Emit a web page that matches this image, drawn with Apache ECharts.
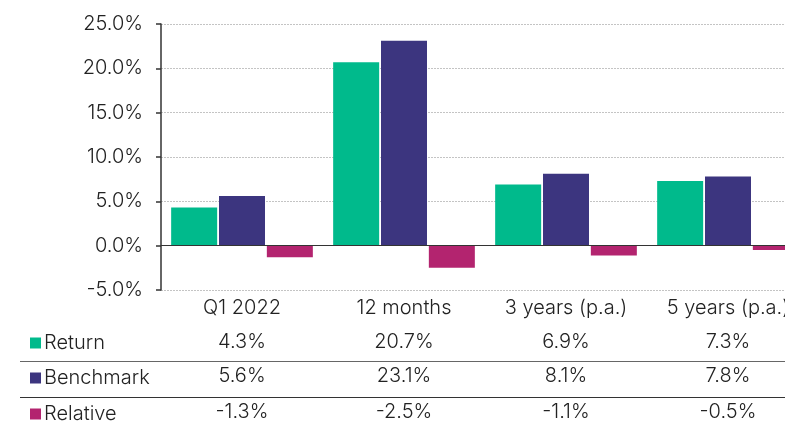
<!DOCTYPE html>
<html>
<head>
<meta charset="utf-8">
<style>
  html, body { margin: 0; padding: 0; background: #fff; overflow: hidden; }
  #chart { width: 809px; height: 422px; }
</style>
<script src="https://cdn.jsdelivr.net/npm/echarts@6/dist/echarts.min.js"></script>
</head>
<body>
<div id="chart"></div>
<script>
// Performance periods and series (percent)
const periods = ['Q1 2022', '12 months', '3 years (p.a.)', '5 years (p.a.)'];
const seriesNames = ['Return', 'Benchmark', 'Relative'];
const returnValues = [4.3, 20.7, 6.9, 7.3];
const benchmarkValues = [5.6, 23.1, 8.1, 7.8];
const relativeValues = [-1.3, -2.5, -1.1, -0.5];
const colors = ['#00BA8C', '#3C357F', '#B3246F'];

const FONT = 'Inter';
const WEIGHT = 300;
const SIZE = 20;
const TEXT = '#222';
const fmt = v => v.toFixed(1) + '%';

const chart = echarts.init(document.getElementById('chart'), null, { renderer: 'canvas' });

const labelStyle = { fontSize: SIZE, fontFamily: FONT, fontWeight: WEIGHT, color: TEXT };

// One hidden-line category axis per table row, stacked below the period labels
function tableAxis(values, offset) {
  return {
    type: 'category',
    data: values.map(fmt),
    position: 'bottom',
    offset: offset,
    axisLine: { show: false },
    axisTick: { show: false },
    axisLabel: Object.assign({ margin: 8, lineHeight: 20 }, labelStyle)
  };
}

// A single-entry legend for each table row
function rowLegend(name, top) {
  return {
    orient: 'vertical',
    left: 25,
    top: top,
    itemWidth: 11,
    itemHeight: 11,
    icon: 'rect',
    selectedMode: false,
    textStyle: Object.assign({ lineHeight: 20, padding: [0, 0, 0, -2] }, labelStyle),
    data: [name]
  };
}

const bar = (name, data, color, extra) => Object.assign({
  name: name,
  type: 'bar',
  data: data,
  barWidth: 46,
  barGap: '4%',
  itemStyle: { color: color },
  emphasis: { disabled: true }
}, extra || {});

chart.setOption({
  animation: false,
  grid: { left: 161, top: 24, right: 0, bottom: 129, containLabel: false },
  legend: [
    rowLegend(seriesNames[0], 328),
    rowLegend(seriesNames[1], 363),
    rowLegend(seriesNames[2], 399)
  ],
  xAxis: [
    {
      type: 'category',
      data: periods,
      position: 'bottom',
      axisLine: { show: false, onZero: false },
      axisTick: { show: false },
      axisLabel: Object.assign({ margin: 8, lineHeight: 20 }, labelStyle)
    },
    tableAxis(returnValues, 34),
    tableAxis(benchmarkValues, 68),
    tableAxis(relativeValues, 104)
  ],
  yAxis: {
    type: 'value',
    min: -5,
    max: 25,
    interval: 5,
    axisLine: { show: true, lineStyle: { color: '#333', width: 1.5 } },
    axisTick: { show: true, length: 5, lineStyle: { color: '#333', width: 1.5 } },
    axisLabel: Object.assign({ formatter: fmt, margin: 18 }, labelStyle),
    splitLine: { show: true, lineStyle: { color: '#c4c4c4', type: [2, 1], width: 1 } }
  },
  series: [
    bar(seriesNames[0], returnValues, colors[0], {
      markLine: {
        silent: true,
        symbol: 'none',
        label: { show: false },
        lineStyle: { color: '#333', type: 'solid', width: 1.2 },
        data: [{ yAxis: 0 }]
      }
    }),
    bar(seriesNames[1], benchmarkValues, colors[1]),
    bar(seriesNames[2], relativeValues, colors[2])
  ],
  graphic: [
    { type: 'line', shape: { x1: 20, y1: 361.5, x2: 809, y2: 361.5 }, style: { stroke: '#666', lineWidth: 1.2 }, silent: true },
    { type: 'line', shape: { x1: 20, y1: 397.5, x2: 809, y2: 397.5 }, style: { stroke: '#333', lineWidth: 1.2 }, silent: true }
  ]
});
</script>
</body>
</html>
